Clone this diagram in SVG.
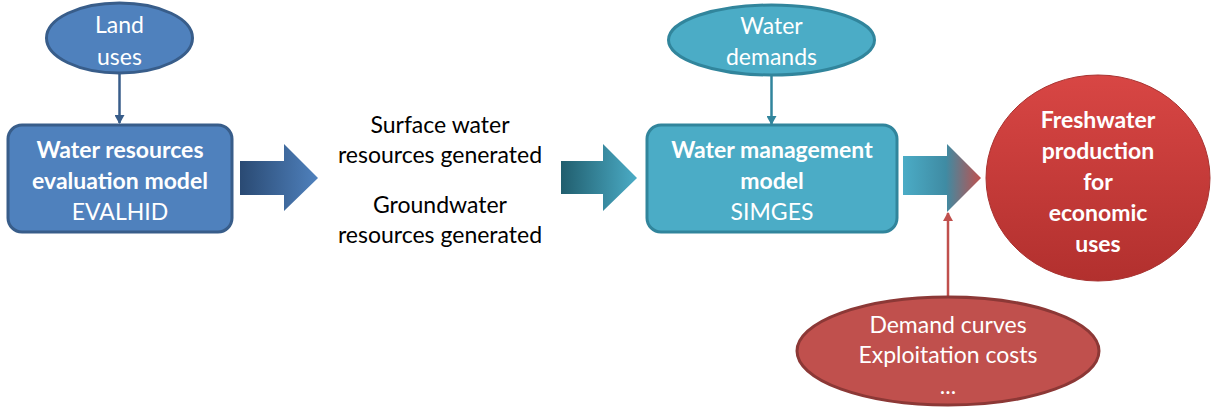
<svg xmlns="http://www.w3.org/2000/svg" width="1212" height="408" viewBox="0 0 1212 408">
<style>
text{font-family:Lato,"Liberation Sans",sans-serif;font-size:23px;text-anchor:middle}
.w{fill:#fff}
.b{font-weight:bold}
.k{fill:#000}
.blue{fill:#4f81bd;stroke:#385d8a;stroke-width:3}
.teal{fill:#4bacc6;stroke:#31859c;stroke-width:3}
.red{fill:#c0504d;stroke:#8c3836;stroke-width:3}
</style>
<defs>
<linearGradient id="g1" x1="0" x2="1" y1="0" y2="0"><stop offset="0" stop-color="#2a4a73"/><stop offset="1" stop-color="#4f81bd"/></linearGradient>
<linearGradient id="g2" x1="0" x2="1" y1="0" y2="0"><stop offset="0" stop-color="#215e6e"/><stop offset="1" stop-color="#4bacc6"/></linearGradient>
<linearGradient id="g3" x1="0" x2="1" y1="0" y2="0"><stop offset="0" stop-color="#4bacc6"/><stop offset="0.55" stop-color="#3f8ba3"/><stop offset="1" stop-color="#c0504d"/></linearGradient>
<linearGradient id="gr" x1="0" x2="0" y1="0" y2="1"><stop offset="0" stop-color="#d84644"/><stop offset="1" stop-color="#b2302e"/></linearGradient>
<marker id="ab" markerWidth="10" markerHeight="10" refX="8" refY="5" orient="auto" markerUnits="userSpaceOnUse"><path d="M0,0 L9,5 L0,10 Z" fill="#385d8a"/></marker>
<marker id="at" markerWidth="10" markerHeight="10" refX="8" refY="5" orient="auto" markerUnits="userSpaceOnUse"><path d="M0,0 L9,5 L0,10 Z" fill="#31859c"/></marker>
<marker id="ar" markerWidth="10" markerHeight="10" refX="8" refY="5" orient="auto" markerUnits="userSpaceOnUse"><path d="M0,0 L9,5 L0,10 Z" fill="#c0504d"/></marker>
</defs>
<g id="connectors">
<line x1="119.5" y1="73" x2="119.5" y2="123" stroke="#385d8a" stroke-width="2.5" marker-end="url(#ab)"/>
<line x1="771.5" y1="75" x2="771.5" y2="124" stroke="#31859c" stroke-width="2.5" marker-end="url(#at)"/>
<line x1="948" y1="297" x2="948" y2="213" stroke="#c0504d" stroke-width="2.5" marker-end="url(#ar)"/>
<path d="M240,161 H284 V144 L318,178 L284,211 V195 H240 Z" fill="url(#g1)"/>
<path d="M561,161 H603 V144 L637,178 L603,211 V194 H561 Z" fill="url(#g2)"/>
<path d="M903,156 H947 V144 L981,178 L947,212 V195 H903 Z" fill="url(#g3)"/>
</g>
<g id="land-uses">
<ellipse class="blue" cx="119.5" cy="38" rx="73" ry="35"/>
<text class="w" x="119.5" y="33">Land</text>
<text class="w" x="119.5" y="65">uses</text>
</g>
<g id="evalhid">
<rect class="blue" x="8" y="125" width="224" height="107" rx="14"/>
<text class="w b" x="120" y="158">Water resources</text>
<text class="w b" x="120" y="189">evaluation model</text>
<text class="w" x="120" y="220">EVALHID</text>
</g>
<g id="middle-text">
<text class="k" x="440" y="133">Surface water</text>
<text class="k" x="440" y="163">resources generated</text>
<text class="k" x="440" y="213">Groundwater</text>
<text class="k" x="440" y="243">resources generated</text>
</g>
<g id="water-demands">
<ellipse class="teal" cx="771.5" cy="40" rx="103" ry="35"/>
<text class="w" x="771.5" y="34">Water</text>
<text class="w" x="771.5" y="65">demands</text>
</g>
<g id="simges">
<rect class="teal" x="647" y="125" width="250" height="107" rx="14"/>
<text class="w b" x="772" y="158">Water management</text>
<text class="w b" x="772" y="189">model</text>
<text class="w" x="772" y="220">SIMGES</text>
</g>
<g id="freshwater">
<ellipse cx="1098" cy="178" rx="112" ry="103" fill="url(#gr)" stroke="#a83331" stroke-width="1"/>
<text class="w b" x="1098" y="128">Freshwater</text>
<text class="w b" x="1098" y="159">production</text>
<text class="w b" x="1098" y="190">for</text>
<text class="w b" x="1098" y="221">economic</text>
<text class="w b" x="1098" y="252">uses</text>
</g>
<g id="demand-curves">
<ellipse class="red" cx="948" cy="351" rx="151" ry="54"/>
<text class="w" x="948" y="333">Demand curves</text>
<text class="w" x="948" y="363">Exploitation costs</text>
<text class="w" x="948" y="394">...</text>
</g>
</svg>
